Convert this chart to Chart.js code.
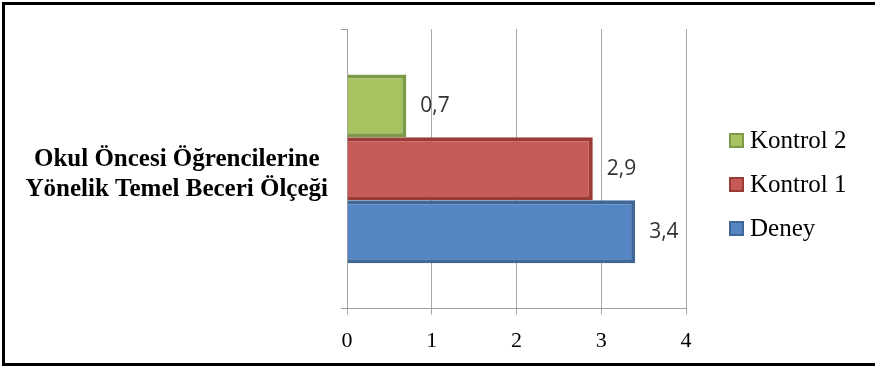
<!DOCTYPE html>
<html>
<head>
<meta charset="utf-8">
<script src="https://cdn.jsdelivr.net/npm/chart.js@4.4.0/dist/chart.umd.min.js"></script>
<style>
    body { margin: 0; background: #fff; overflow: hidden; }
    #wrap { position: relative; width: 875px; height: 368px; }
    #frame { position: absolute; left: 2px; top: 2px; width: 900px; height: 364px; box-sizing: border-box; border: 3px solid #000; }
    #legend { position: absolute; left: 729px; top: 125px; font-family: 'Liberation Serif', 'Times New Roman', serif; font-size: 25px; color: #000; }
    .item { display: flex; align-items: center; height: 30px; margin-bottom: 14px; }
    .box { width: 15px; height: 15px; box-sizing: border-box; border: 2px solid; margin-right: 6px; }
</style>
</head>
<body>
<div id="wrap">
    <canvas id="chart" width="875" height="368"></canvas>
    <div id="frame"></div>
    <div id="legend"></div>
</div>
<script>
const categories = [['Okul Öncesi Öğrencilerine', 'Yönelik Temel Beceri Ölçeği']];
const seriesNames = ['Kontrol 2', 'Kontrol 1', 'Deney'];
const kontrol2 = [0.7];
const kontrol1 = [2.9];
const deney = [3.4];
const xTicks = [0, 1, 2, 3, 4];

const fills = ['#a6c35f', '#c65a57', '#5585c2'];
const borders = ['#7d9a48', '#9a3b38', '#3f6897'];

const Series = [kontrol2, kontrol1, deney];

// value labels to the right of each bar
const valueLabels = {
    id: 'valueLabels',
    afterDatasetsDraw(chart) {
        const ctx = chart.ctx;
        ctx.save();
        ctx.font = '21px "Open Sans", sans-serif';
        ctx.fillStyle = '#333';
        ctx.textAlign = 'left';
        ctx.textBaseline = 'middle';
        chart.data.datasets.forEach((ds, i) => {
            chart.getDatasetMeta(i).data.forEach((bar, j) => {
                ctx.fillText(String(ds.data[j]).replace('.', ','), bar.x + 14, bar.y);
            });
        });
        ctx.restore();
    }
};

const Chart_Bars = new Chart(document.querySelector('#chart'), {
    type: 'bar',
    data: {
        labels: categories,
        datasets: seriesNames.map((name, i) => ({
            label: name,
            data: Series[i],
            backgroundColor: fills[i],
            borderColor: borders[i],
            borderWidth: 4,
            barPercentage: 1,
            categoryPercentage: 0.675
        }))
    },
    options: {
        indexAxis: 'y',
        responsive: false,
        animation: false,
        layout: { padding: { top: 29, right: 189, bottom: 1, left: 0 } },
        scales: {
            x: {
                min: 0,
                max: 4,
                afterBuildTicks: (scale) => { scale.ticks = xTicks.map(v => ({ value: v })); },
                grid: { color: '#a8a8a8', tickLength: 6 },
                border: { color: '#a0a0a0' },
                ticks: {
                    color: '#000',
                    padding: 13,
                    font: { family: '"Liberation Serif", "Times New Roman", serif', size: 22 }
                }
            },
            y: {
                afterFit: (scale) => {
                    scale.width = 347;
                    scale.paddingTop = 0;
                    scale.paddingBottom = 0;
                },
                grid: { drawOnChartArea: false, color: '#a0a0a0', tickLength: 6 },
                border: { color: '#a0a0a0' },
                ticks: {
                    color: '#000',
                    crossAlign: 'center',
                    padding: 13,
                    labelOffset: 6,
                    font: { family: '"Liberation Serif", "Times New Roman", serif', size: 25, weight: 'bold', lineHeight: 1.2 }
                }
            }
        },
        plugins: {
            legend: { display: false },
            tooltip: { enabled: false }
        }
    },
    plugins: [valueLabels]
});

// legend on the right, same order as the bars
const Legend_Container = document.querySelector('#legend');
seriesNames.forEach((name, i) => {
    const item = document.createElement('div');
    item.className = 'item';
    const box = document.createElement('span');
    box.className = 'box';
    box.style.background = fills[i];
    box.style.borderColor = borders[i];
    const text = document.createElement('span');
    text.textContent = name;
    item.appendChild(box);
    item.appendChild(text);
    Legend_Container.appendChild(item);
});
</script>
</body>
</html>
